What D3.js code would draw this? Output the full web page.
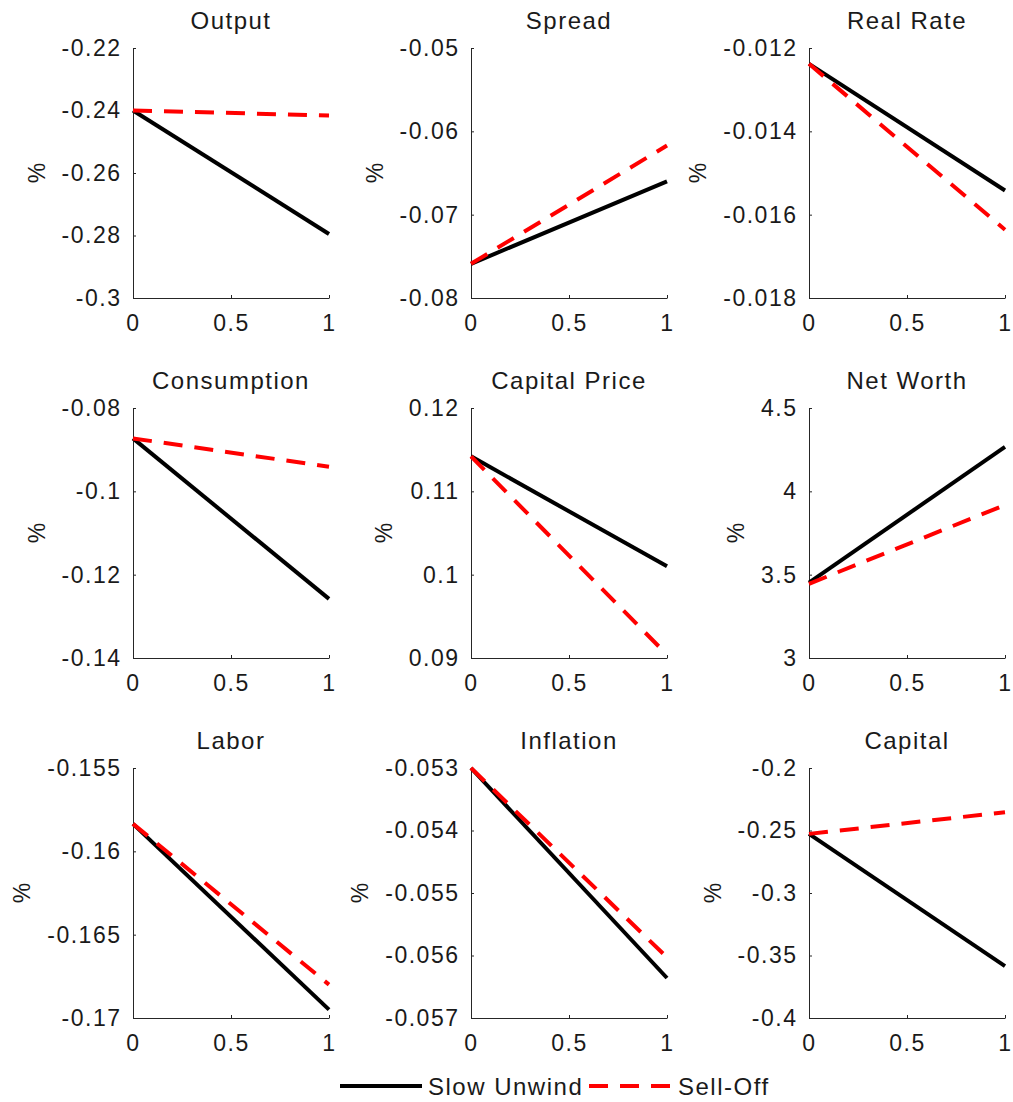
<!DOCTYPE html>
<html>
<head>
<meta charset="utf-8">
<script src="https://cdn.jsdelivr.net/npm/d3@7"></script>
<style>
	body { margin: 0; background: #ffffff; }
	svg text { font-family: 'Liberation Sans', Arial, sans-serif; fill: #1a1a1a; }
</style>
</head>
<body>
<svg id="chart" width="1013" height="1102"></svg>
<script>
// horizon (x) values shared by every panel
const horizon = [0, 1];
const xTicks = [0, 0.5, 1];

const titles = ['Output', 'Spread', 'Real Rate',
	'Consumption', 'Capital Price', 'Net Worth',
	'Labor', 'Inflation', 'Capital'];

// values at horizon 0 and 1
const slowUnwind = [
	[-0.2400, -0.2795],
	[-0.0759, -0.0660],
	[-0.01238, -0.01542],
	[-0.0873, -0.1258],
	[0.1142, 0.1010],
	[3.452, 4.267],
	[-0.15835, -0.1695],
	[-0.05300, -0.05636],
	[-0.2527, -0.3585]
];

const sellOff = [
	[-0.2400, -0.2416],
	[-0.0759, -0.0617],
	[-0.01238, -0.01636],
	[-0.0873, -0.0941],
	[0.1142, 0.0904],
	[3.445, 3.918],
	[-0.15835, -0.1680],
	[-0.05300, -0.05603],
	[-0.2527, -0.2354]
];

const yTicks = [
	[-0.3, -0.28, -0.26, -0.24, -0.22],
	[-0.08, -0.07, -0.06, -0.05],
	[-0.018, -0.016, -0.014, -0.012],
	[-0.14, -0.12, -0.1, -0.08],
	[0.09, 0.1, 0.11, 0.12],
	[3, 3.5, 4, 4.5],
	[-0.17, -0.165, -0.16, -0.155],
	[-0.057, -0.056, -0.055, -0.054, -0.053],
	[-0.4, -0.35, -0.3, -0.25, -0.2]
];

const seriesNames = ['Slow Unwind', 'Sell-Off'];

const svg = d3.select('#chart');

const plotW = 196;
const plotH = 250;
const colStep = 338;
const rowStep = 360;
const left0 = 133;
const top0 = 48;
const axisColor = '#262626';
const dash = '19,12';

titles.forEach((title, i) => {
	const col = i % 3;
	const row = Math.floor(i / 3);
	const g = svg.append('g')
		.attr('transform', `translate(${left0 + col * colStep},${top0 + row * rowStep})`);

	const x = d3.scaleLinear().domain([0, 1]).range([0, plotW]);
	const ticks = yTicks[i];
	const y = d3.scaleLinear().domain([ticks[0], ticks[ticks.length - 1]]).range([plotH, 0]);

	const xAxis = g.append('g')
		.attr('transform', `translate(0,${plotH})`)
		.call(d3.axisBottom(x).tickValues(xTicks).tickFormat(d => String(d))
			.tickSizeInner(-3).tickSizeOuter(0).tickPadding(17));

	const yAxis = g.append('g')
		.call(d3.axisLeft(y).tickValues(ticks).tickFormat(d => String(d))
			.tickSizeInner(-3).tickSizeOuter(0).tickPadding(11.5));

	[xAxis, yAxis].forEach(a => {
		a.select('.domain').attr('stroke', axisColor).attr('stroke-width', 1);
		a.selectAll('.tick line').attr('stroke', axisColor);
		a.selectAll('.tick text')
			.attr('fill', '#1a1a1a')
			.style('font-size', '23px')
			.style('letter-spacing', '1.5px');
	});

	// place the "%" label to the left of the widest tick label
	let labelLeft = 0;
	yAxis.selectAll('.tick text').each(function() {
		const b = this.getBBox();
		labelLeft = Math.min(labelLeft, b.x);
	});

	g.append('text')
		.attr('transform', `translate(${labelLeft - 17},${plotH / 2}) rotate(-90)`)
		.attr('text-anchor', 'middle')
		.style('font-size', '23px')
		.text('%');

	g.append('text')
		.attr('x', plotW / 2)
		.attr('y', -19.5)
		.attr('text-anchor', 'middle')
		.style('font-size', '24px')
		.style('letter-spacing', '1.5px')
		.text(title);

	const line = d3.line()
		.x((d, k) => x(horizon[k]))
		.y(d => y(d));

	g.append('path')
		.datum(slowUnwind[i])
		.attr('d', line)
		.attr('fill', 'none')
		.attr('stroke', '#000000')
		.attr('stroke-width', 4);

	g.append('path')
		.datum(sellOff[i])
		.attr('d', line)
		.attr('fill', 'none')
		.attr('stroke', '#ff0000')
		.attr('stroke-width', 4)
		.attr('stroke-dasharray', dash);
});

// legend
const legend = svg.append('g').attr('transform', 'translate(0,1086)');
const legendItems = [
	{ name: seriesNames[0], color: '#000000', dash: null, x1: 340, x2: 422, tx: 428 },
	{ name: seriesNames[1], color: '#ff0000', dash: dash, x1: 589, x2: 670, tx: 678 }
];
legendItems.forEach(it => {
	legend.append('line')
		.attr('x1', it.x1).attr('x2', it.x2)
		.attr('y1', 0).attr('y2', 0)
		.attr('stroke', it.color)
		.attr('stroke-width', 4)
		.attr('stroke-dasharray', it.dash);
	legend.append('text')
		.attr('x', it.tx)
		.attr('y', 8.5)
		.style('font-size', '24px')
		.style('letter-spacing', '1.5px')
		.text(it.name);
});
</script>
</body>
</html>
